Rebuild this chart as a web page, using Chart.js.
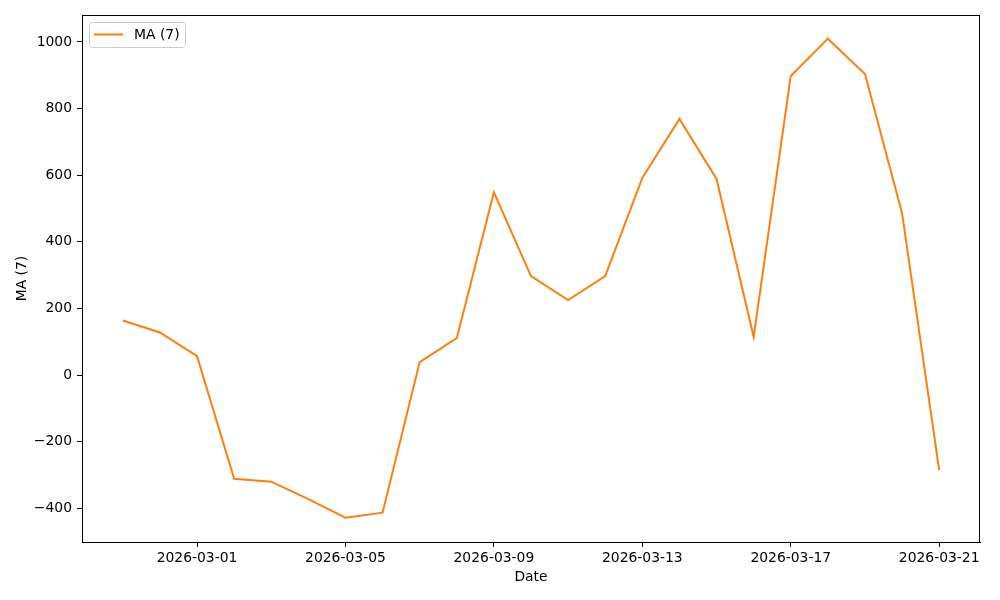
<!DOCTYPE html>
<html>
<head>
<meta charset="utf-8">
<script src="https://cdn.jsdelivr.net/npm/chart.js@4"></script>
<style>
  html, body { margin: 0; padding: 0; background: #fff; }
  #wrap { width: 1000px; height: 600px; position: relative; }
</style>
</head>
<body>
<div id="wrap"><canvas id="maChart"></canvas></div>
<script>
// Data
const dates = [
  "2026-02-27", "2026-02-28", "2026-03-01", "2026-03-02", "2026-03-03",
  "2026-03-04", "2026-03-05", "2026-03-06", "2026-03-07", "2026-03-08",
  "2026-03-09", "2026-03-10", "2026-03-11", "2026-03-12", "2026-03-13",
  "2026-03-14", "2026-03-15", "2026-03-16", "2026-03-17", "2026-03-18",
  "2026-03-19", "2026-03-20", "2026-03-21",
];
const maValues = [
  164, 128, 57, -311, -320, -372, -428, -413, 39, 111,
  549, 297, 225, 297, 592, 769, 589, 115, 898, 1010,
  904, 486, -285,
];
const xTickDates = ["2026-03-01", "2026-03-05", "2026-03-09", "2026-03-13", "2026-03-17", "2026-03-21"];
const yTicks = [-400, -200, 0, 200, 400, 600, 800, 1000];

const seriesLabel = "MA (7)";
const lineColor = "#ff7f0e";
const font = { family: "DejaVu Sans", size: 13.9 };

const points = maValues.map((v, i) => ({ x: i, y: v }));

// frame around plot + legend box inside the plot
const framePlugin = {
  id: "frame",
  afterDraw(chart) {
    const { ctx, chartArea: a } = chart;
    ctx.save();
    ctx.strokeStyle = "#000";
    ctx.lineWidth = 1;
    ctx.strokeRect(a.left + 0.5, a.top + 0.5, a.right - a.left - 1, a.bottom - a.top);

    // legend
    const bx = a.left + 7, by = a.top + 7, bw = 96, bh = 25;
    ctx.beginPath();
    ctx.roundRect(bx + 0.5, by + 0.5, bw, bh, 3);
    ctx.fillStyle = "rgba(255,255,255,0.8)";
    ctx.fill();
    ctx.strokeStyle = "#cccccc";
    ctx.stroke();
    ctx.beginPath();
    ctx.moveTo(bx + 5, by + 12.5);
    ctx.lineTo(bx + 34, by + 12.5);
    ctx.strokeStyle = lineColor;
    ctx.lineWidth = 2;
    ctx.stroke();
    ctx.fillStyle = "#000";
    ctx.font = "13.9px 'DejaVu Sans'";
    ctx.textBaseline = "middle";
    ctx.fillText(seriesLabel, bx + 45, by + 13);
    ctx.restore();
  },
};

new Chart(document.getElementById("maChart"), {
  type: "line",
  data: {
    datasets: [
      {
        label: seriesLabel,
        data: points,
        borderColor: lineColor,
        borderWidth: 2,
        pointRadius: 0,
        tension: 0,
        fill: false,
      },
    ],
  },
  options: {
    responsive: true,
    maintainAspectRatio: false,
    animation: false,
    layout: { padding: { left: 0, top: 15, right: 20, bottom: 0 } },
    plugins: {
      legend: { display: false },
      tooltip: { enabled: false },
    },
    scales: {
      x: {
        type: "linear",
        min: -1.1,
        max: dates.length - 1 + 1.1,
        afterBuildTicks: (axis) => {
          axis.ticks = xTickDates.map((d) => ({ value: dates.indexOf(d) }));
        },
        afterFit: (axis) => { axis.height = 58; },
        ticks: {
          color: "#000",
          font: font,
          padding: 3,
          maxRotation: 0,
          autoSkip: false,
          callback: (v) => dates[v],
        },
        grid: { drawOnChartArea: false, tickLength: 5, tickColor: "#000" },
        border: { color: "#000" },
        title: {
          display: true,
          text: "Date",
          color: "#000",
          font: font,
          padding: { top: 0, bottom: 14 },
        },
      },
      y: {
        min: -501,
        max: 1081,
        afterBuildTicks: (axis) => {
          axis.ticks = yTicks.map((v) => ({ value: v }));
        },
        afterFit: (axis) => { axis.width = 82; },
        ticks: {
          color: "#000",
          font: font,
          padding: 5,
          callback: (v) => (v < 0 ? "\u2212" + Math.abs(v) : String(v)),
        },
        grid: { drawOnChartArea: false, tickLength: 5, tickColor: "#000" },
        border: { color: "#000" },
        title: {
          display: true,
          text: seriesLabel,
          color: "#000",
          font: font,
          padding: { top: 14, bottom: 0 },
        },
      },
    },
  },
  plugins: [framePlugin],
});
</script>
</body>
</html>
